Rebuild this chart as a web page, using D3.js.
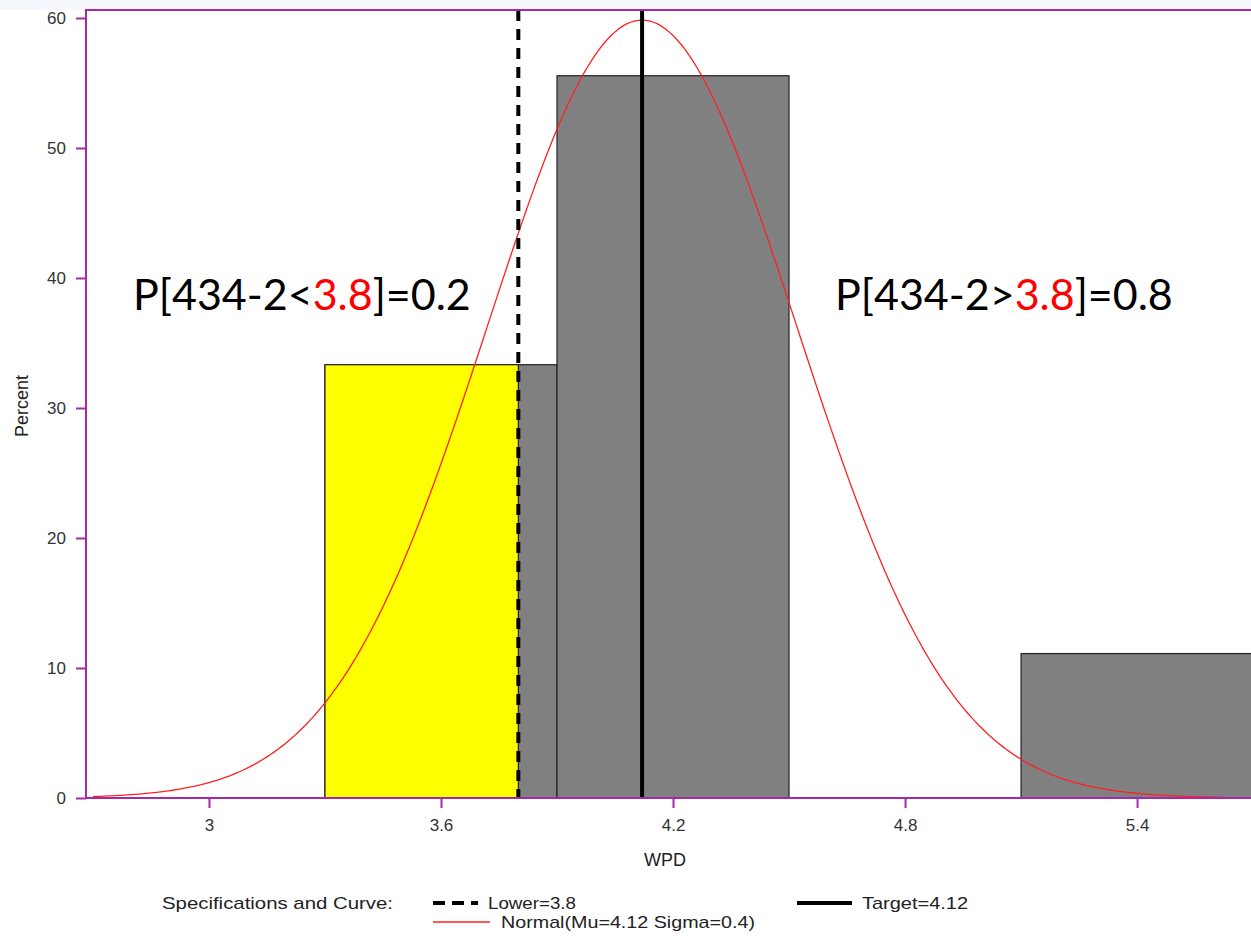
<html>
<head>
<script src="https://cdn.jsdelivr.net/npm/d3@7"></script>
<style>
  body { margin: 0; background: #fff; font-family: "Liberation Sans", Arial, sans-serif; }
  svg { display: block; }
</style>
</head>
<body>
<svg id="chart"></svg>
<script>
// histogram bins (WPD), percent of observations
let binStarts = [3.3, 3.9, 4.5, 5.1]
let binEnds = [3.9, 4.5, 5.1, 5.7]
let binPercents = [33.33, 55.56, 0, 11.11]
let xTicks = [3, 3.6, 4.2, 4.8, 5.4]
let yTicks = [0, 10, 20, 30, 40, 50, 60]
let lowerSpec = 3.8
let target = 4.12
let mu = 4.12
let sigma = 0.4
let binWidth = 0.6
let curveRange = [2.70, 5.62]

let width = 1251, height = 936
let purple = "#a32aa8"
let textFont = "'Liberation Sans', Arial, sans-serif"

let svg = d3.select("#chart").attr("width", width).attr("height", height)

svg.append("rect").attr("width", width).attr("height", height).attr("fill", "#fff")
svg.append("rect").attr("width", width).attr("height", 10).attr("fill", "#f7f8fd")

let x = d3.scaleLinear().domain([2.682, 5.72]).range([86, 86 + (5.72 - 2.682) * 386.7])
let y = d3.scaleLinear().domain([0, 60]).range([798, 18])

// bars
let bars = binStarts.map((s, i) => ({ start: s, end: binEnds[i], pct: binPercents[i] })).filter(d => d.pct > 0)
svg.selectAll(".bar").data(bars).enter().append("rect")
  .attr("x", d => x(d.start))
  .attr("y", d => y(d.pct))
  .attr("width", d => x(d.end) - x(d.start))
  .attr("height", d => y(0) - y(d.pct))
  .attr("fill", "#808080")
  .attr("stroke", "#222")
  .attr("stroke-width", 1.2)

// yellow part of the first bar below the lower spec
let first = bars[0]
svg.append("rect")
  .attr("x", x(first.start))
  .attr("y", y(first.pct))
  .attr("width", x(lowerSpec) - x(first.start))
  .attr("height", y(0) - y(first.pct))
  .attr("fill", "#ffff00")
  .attr("stroke", "#222")
  .attr("stroke-width", 1.2)

// normal curve from the fitted parameters
let pts = d3.range(curveRange[0], curveRange[1] + 0.001, 0.01).map(v => ({
  v: v,
  p: 100 * binWidth / (sigma * Math.sqrt(2 * Math.PI)) * Math.exp(-0.5 * Math.pow((v - mu) / sigma, 2))
}))
svg.append("path").datum(pts)
  .attr("d", d3.line().x(d => x(d.v)).y(d => y(d.p)))
  .attr("fill", "none")
  .attr("stroke", "#ff2020")
  .attr("stroke-width", 1.3)

// spec lines
svg.append("line")
  .attr("x1", x(lowerSpec)).attr("x2", x(lowerSpec))
  .attr("y1", 10).attr("y2", y(0))
  .attr("stroke", "#000").attr("stroke-width", 4)
  .attr("stroke-dasharray", "11,8")
svg.append("line")
  .attr("x1", x(target)).attr("x2", x(target))
  .attr("y1", 10).attr("y2", y(0))
  .attr("stroke", "#000").attr("stroke-width", 4)

// frame
svg.append("rect")
  .attr("x", 86).attr("y", 10)
  .attr("width", 1300).attr("height", y(0) - 10)
  .attr("fill", "none").attr("stroke", purple).attr("stroke-width", 2)

// axes
let axisY = d3.axisLeft(y).tickValues(yTicks).tickSize(10).tickPadding(10)
let gy = svg.append("g").attr("transform", "translate(86,0)").call(axisY)
let axisX = d3.axisBottom(x).tickValues(xTicks).tickSize(10).tickPadding(11).tickFormat(d3.format(""))
let gx = svg.append("g").attr("transform", `translate(0,${y(0)})`).call(axisX)
for (let g of [gx, gy]) {
  g.select(".domain").remove()
  g.selectAll("line").attr("stroke", purple).attr("stroke-width", 2)
  g.selectAll("text").attr("fill", "#333").style("font-size", "17px")
    .style("font-family", textFont)
}

svg.append("text").attr("transform", "translate(28,406) rotate(-90)")
  .attr("text-anchor", "middle").attr("fill", "#222")
  .style("font-size", "18px").style("font-family", textFont).text("Percent")
svg.append("text").attr("x", 665).attr("y", 866)
  .attr("text-anchor", "middle").attr("fill", "#222")
  .style("font-size", "18px").style("font-family", textFont).text("WPD")

// legend
let legY1 = 903, legY2 = 922
function legText(xpos, ypos, str, len) {
  svg.append("text").attr("x", xpos).attr("y", ypos + 6).attr("fill", "#222")
    .style("font-size", "17px").style("font-family", textFont)
    .attr("textLength", len).attr("lengthAdjust", "spacingAndGlyphs")
    .text(str)
}
legText(162, legY1, "Specifications and Curve:", 231)
svg.append("line").attr("x1", 433).attr("x2", 478).attr("y1", legY1).attr("y2", legY1)
  .attr("stroke", "#000").attr("stroke-width", 4).attr("stroke-dasharray", "12,7")
legText(488, legY1, "Lower=3.8", 88)
svg.append("line").attr("x1", 797).attr("x2", 852).attr("y1", legY1).attr("y2", legY1)
  .attr("stroke", "#000").attr("stroke-width", 4)
legText(862, legY1, "Target=4.12", 106)
svg.append("line").attr("x1", 433).attr("x2", 490).attr("y1", legY2).attr("y2", legY2)
  .attr("stroke", "#ff2020").attr("stroke-width", 1.3)
legText(501, legY2, "Normal(Mu=4.12 Sigma=0.4)", 254)

// probability annotations
function annot(xpos, op, prob) {
  let t = svg.append("text").attr("x", xpos).attr("y", 310)
    .style("font-family", "Lato, 'Open Sans', sans-serif").style("font-size", "43px").attr("fill", "#000")
  t.append("tspan").text("P[434-2" + op)
  t.append("tspan").attr("fill", "#ff0000").text("3.8")
  t.append("tspan").text("]=" + prob)
}
annot(133, "<", "0.2")
annot(835, ">", "0.8")
</script>
</body>
</html>
